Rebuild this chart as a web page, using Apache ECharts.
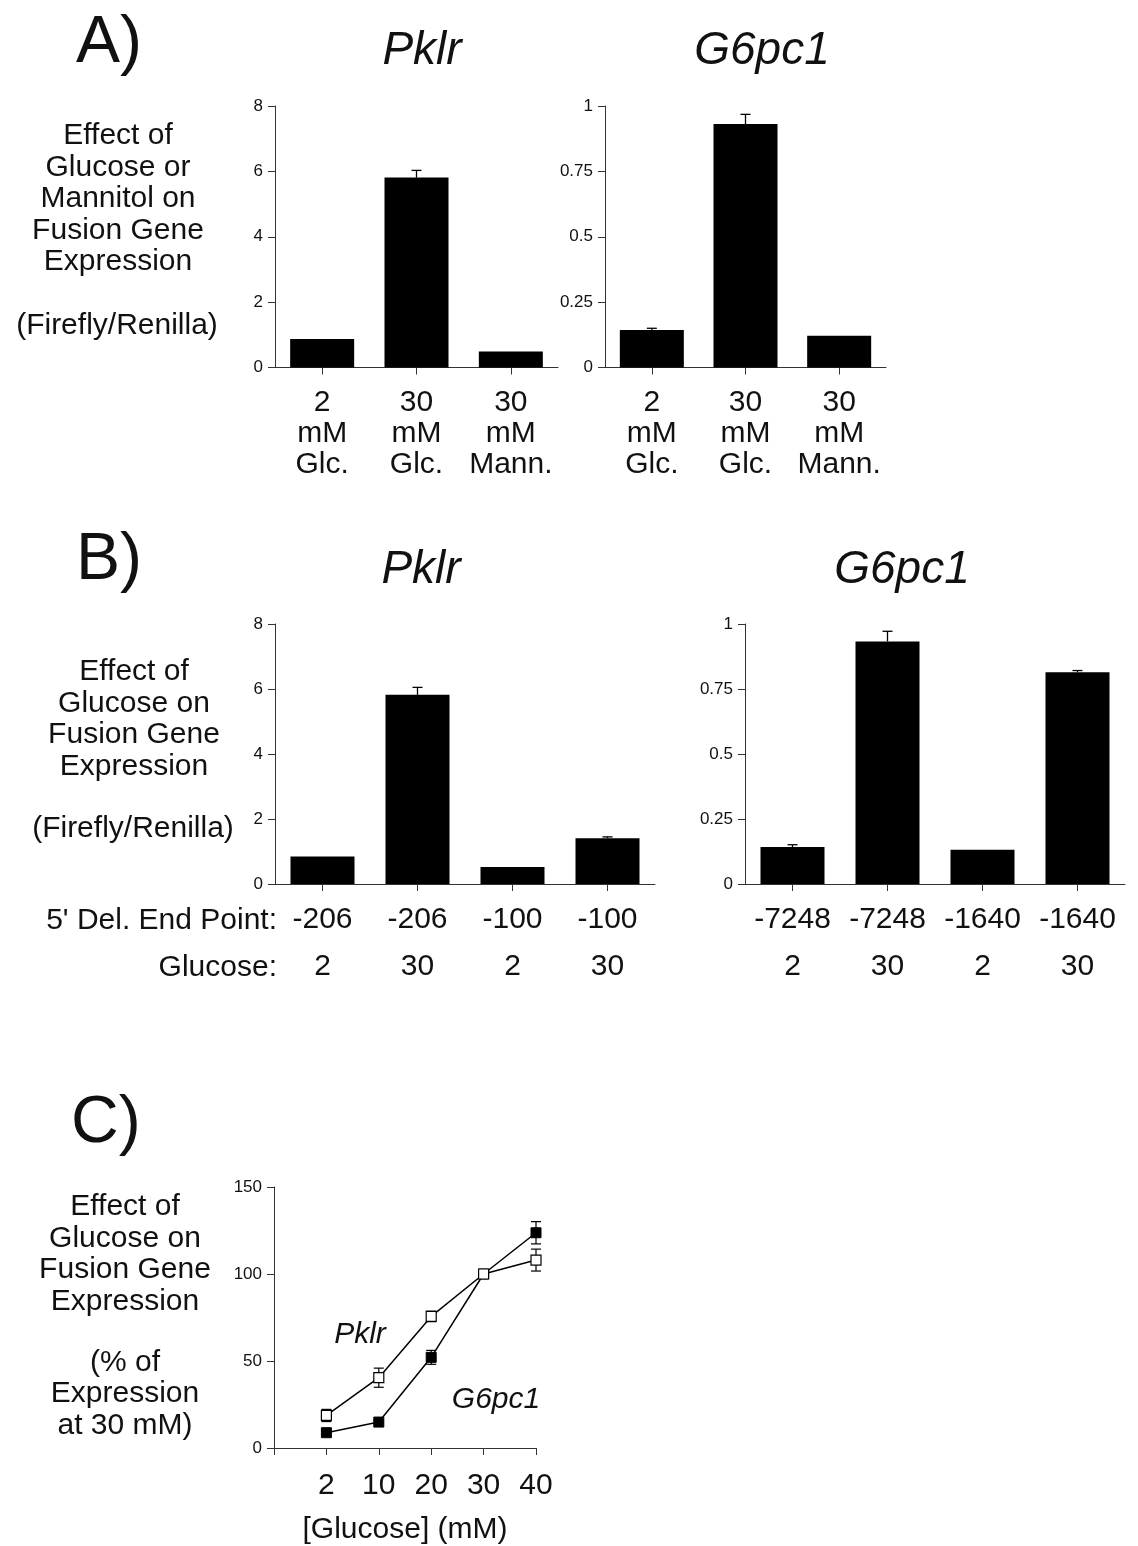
<!DOCTYPE html>
<html>
<head>
<meta charset="utf-8">
<script src="https://cdn.jsdelivr.net/npm/echarts@6/dist/echarts.min.js"></script>
<style>
html,body{margin:0;padding:0;background:#fff;}
#chart{width:1138px;height:1546px;}
</style>
</head>
<body>
<div id="chart"></div>
<script>
// ---------- data ----------
const aCategories = ['2\nmM\nGlc.', '30\nmM\nGlc.', '30\nmM\nMann.'];
const aPklrValues = [0.87, 5.81, 0.49];
const aPklrErrors = [0, 0.22, 0];
const aG6pc1Values = [0.143, 0.931, 0.121];
const aG6pc1Errors = [0.007, 0.037, 0];

const bPklrEndPoints = ['-206', '-206', '-100', '-100'];
const bG6pc1EndPoints = ['-7248', '-7248', '-1640', '-1640'];
const bGlucose = ['2', '30', '2', '30'];
const bPklrValues = [0.85, 5.82, 0.52, 1.41];
const bPklrErrors = [0, 0.23, 0, 0.04];
const bG6pc1Values = [0.142, 0.933, 0.132, 0.814];
const bG6pc1Errors = [0.009, 0.039, 0, 0.007];

const cGlucoseLabels = ['2', '10', '20', '30', '40'];
const cPklrValues = [18.7, 40.4, 75.6, 100, 108];
const cPklrErrors = [3.5, 5.5, 3, 0, 6.3];
const cG6pc1Values = [8.8, 14.9, 52.1, 100, 123.7];
const cG6pc1Errors = [1, 1, 4, 0, 6.4];

const FONT = 'Liberation Sans, Arial, Helvetica, sans-serif';
const INK = '#111';
const AXIS = '#333';
const TXT = 30;

// ---------- helpers ----------
function yAx(gi, max, interval) {
  return {
    type: 'value', gridIndex: gi, min: 0, max: max, interval: interval,
    axisLine: {show: true, lineStyle: {color: AXIS, width: 1}},
    axisTick: {show: true, length: 7, lineStyle: {color: AXIS, width: 1}},
    splitLine: {show: false},
    axisLabel: {fontSize: 17, color: INK, margin: 12, fontFamily: FONT}
  };
}
function xAx(gi, data, label, extra) {
  return Object.assign({
    type: 'category', gridIndex: gi, data: data,
    axisLine: {show: true, lineStyle: {color: AXIS, width: 1}},
    axisTick: {show: true, alignWithLabel: true, length: 7, lineStyle: {color: AXIS, width: 1}},
    splitLine: {show: false},
    axisLabel: Object.assign({fontSize: TXT, color: INK, fontFamily: FONT, interval: 0}, label)
  }, extra || {});
}
function barSeries(ai, values) {
  return {
    type: 'bar', xAxisIndex: ai, yAxisIndex: ai, data: values, barWidth: 64,
    itemStyle: {color: '#000'}, z: 2, silent: true
  };
}
function upperErr(ai, values, errors) {
  return {
    type: 'custom', xAxisIndex: ai, yAxisIndex: ai, z: 1, silent: true,
    data: values.map((v, i) => [i, v, errors[i]]),
    renderItem: function (params, api) {
      const err = api.value(2);
      if (!err) return null;
      const p0 = api.coord([api.value(0), api.value(1)]);
      const p1 = api.coord([api.value(0), api.value(1) + err]);
      const hw = 5;
      return {
        type: 'group', children: [
          {type: 'line', shape: {x1: p0[0], y1: p0[1], x2: p1[0], y2: p1[1]}, style: {stroke: '#000', lineWidth: 1.3}},
          {type: 'line', shape: {x1: p1[0] - hw, y1: p1[1], x2: p1[0] + hw, y2: p1[1]}, style: {stroke: '#000', lineWidth: 1.3}}
        ]
      };
    }
  };
}
function bothErr(ai, values, errors) {
  return {
    type: 'custom', xAxisIndex: ai, yAxisIndex: ai, z: 1, silent: true,
    data: values.map((v, i) => [i + 1, v, errors[i]]),
    renderItem: function (params, api) {
      const err = api.value(2);
      if (!err) return null;
      const pl = api.coord([api.value(0), api.value(1) - err]);
      const ph = api.coord([api.value(0), api.value(1) + err]);
      const hw = 5;
      return {
        type: 'group', children: [
          {type: 'line', shape: {x1: pl[0], y1: pl[1], x2: ph[0], y2: ph[1]}, style: {stroke: '#000', lineWidth: 1.2}},
          {type: 'line', shape: {x1: ph[0] - hw, y1: ph[1], x2: ph[0] + hw, y2: ph[1]}, style: {stroke: '#000', lineWidth: 1.2}},
          {type: 'line', shape: {x1: pl[0] - hw, y1: pl[1], x2: pl[0] + hw, y2: pl[1]}, style: {stroke: '#000', lineWidth: 1.2}}
        ]
      };
    }
  };
}
function txt(text, x, y, size, opts) {
  return {
    type: 'text', x: x, y: y, silent: true,
    style: Object.assign({
      text: text, fontSize: size, fontFamily: FONT, fill: INK,
      textAlign: 'center', textVerticalAlign: 'middle', lineHeight: 31.5
    }, opts || {})
  };
}

const bPklrLabels = bPklrEndPoints.map((e, i) => e + '\n' + bGlucose[i]);
const bG6pc1Labels = bG6pc1EndPoints.map((e, i) => e + '\n' + bGlucose[i]);

const chart = echarts.init(document.getElementById('chart'), null, {renderer: 'canvas'});
chart.setOption({
  animation: false,
  backgroundColor: '#fff',
  grid: [
    {left: 275, top: 106, width: 283, height: 261.5},
    {left: 605, top: 106, width: 281, height: 261.5},
    {left: 275, top: 624, width: 380, height: 260},
    {left: 745, top: 624, width: 380, height: 260},
    {left: 274, top: 1187, width: 262, height: 261}
  ],
  xAxis: [
    xAx(0, aCategories, {lineHeight: 31, margin: 20}),
    xAx(1, aCategories, {lineHeight: 31, margin: 20}),
    xAx(2, bPklrLabels, {lineHeight: 47, margin: 12}),
    xAx(3, bG6pc1Labels, {lineHeight: 47, margin: 12}),
    xAx(4, [''].concat(cGlucoseLabels), {lineHeight: 31, margin: 22}, {boundaryGap: false,
      axisTick: {show: true, length: 7, lineStyle: {color: AXIS, width: 1}}})
  ],
  yAxis: [
    yAx(0, 8, 2),
    yAx(1, 1, 0.25),
    yAx(2, 8, 2),
    yAx(3, 1, 0.25),
    yAx(4, 150, 50)
  ],
  series: [
    barSeries(0, aPklrValues), upperErr(0, aPklrValues, aPklrErrors),
    barSeries(1, aG6pc1Values), upperErr(1, aG6pc1Values, aG6pc1Errors),
    barSeries(2, bPklrValues), upperErr(2, bPklrValues, bPklrErrors),
    barSeries(3, bG6pc1Values), upperErr(3, bG6pc1Values, bG6pc1Errors),
    bothErr(4, cPklrValues, cPklrErrors),
    bothErr(4, cG6pc1Values, cG6pc1Errors),
    {
      type: 'line', xAxisIndex: 4, yAxisIndex: 4, z: 3, silent: true,
      data: [null].concat(cG6pc1Values),
      symbol: 'rect', symbolSize: 10,
      lineStyle: {color: '#000', width: 1.5},
      itemStyle: {color: '#000', borderColor: '#000', borderWidth: 1}
    },
    {
      type: 'line', xAxisIndex: 4, yAxisIndex: 4, z: 4, silent: true,
      data: [null].concat(cPklrValues),
      symbol: 'rect', symbolSize: 10,
      lineStyle: {color: '#000', width: 1.5},
      itemStyle: {color: '#fff', borderColor: '#000', borderWidth: 1.2}
    }
  ],
  graphic: [
    txt('A)', 76, 44, 66, {textAlign: 'left'}),
    txt('B)', 76, 561, 66, {textAlign: 'left'}),
    txt('C)', 71, 1124, 66, {textAlign: 'left'}),
    txt('Pklr', 422, 51, 46, {fontStyle: 'italic'}),
    txt('G6pc1', 762, 51, 46, {fontStyle: 'italic'}),
    txt('Pklr', 421, 570, 46, {fontStyle: 'italic'}),
    txt('G6pc1', 902, 570, 46, {fontStyle: 'italic'}),
    txt('Effect of\nGlucose or\nMannitol on\nFusion Gene\nExpression', 118, 199, TXT),
    txt('(Firefly/Renilla)', 117, 326, TXT),
    txt('Effect of\nGlucose on\nFusion Gene\nExpression', 134, 719, TXT),
    txt('(Firefly/Renilla)', 133, 829, TXT),
    txt("5' Del. End Point:", 277, 921, TXT, {textAlign: 'right'}),
    txt('Glucose:', 277, 968, TXT, {textAlign: 'right'}),
    txt('Effect of\nGlucose on\nFusion Gene\nExpression', 125, 1254, TXT),
    txt('(% of\nExpression\nat 30 mM)', 125, 1394, TXT),
    txt('[Glucose] (mM)', 405, 1530, TXT),
    txt('Pklr', 360, 1335, TXT, {fontStyle: 'italic'}),
    txt('G6pc1', 496, 1400, TXT, {fontStyle: 'italic'})
  ]
});
</script>
</body>
</html>
